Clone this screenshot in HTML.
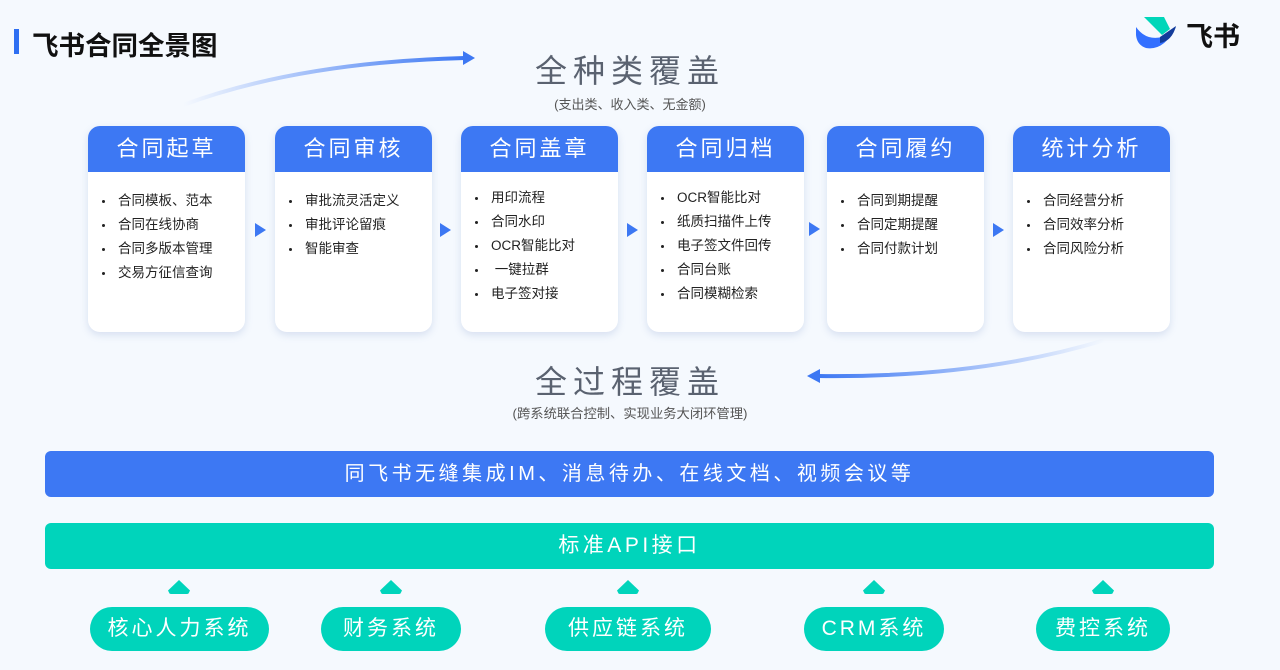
<!DOCTYPE html>
<html><head><meta charset="utf-8"><style>
*{margin:0;padding:0;box-sizing:border-box}
body{width:1280px;height:670px;background:#f5f9fe;position:relative;overflow:hidden;font-family:"Liberation Sans","Noto Sans CJK SC",sans-serif}
.a{position:absolute}
.card{position:absolute;top:126px;height:206px;background:#fff;border-radius:12px;box-shadow:0 3px 8px rgba(80,110,180,.18);overflow:hidden}
.card .h{height:46px;background:#3d78f3;color:#fff;font-size:22px;text-align:center;line-height:46px;letter-spacing:3px}
.card ul{list-style:none;padding:15px 0 0 12px}
.card li{font-size:13.5px;color:#222;height:24px;line-height:24px;padding-left:18px;position:relative}
.card li:before{content:"";position:absolute;left:2px;top:11px;width:3px;height:3px;border-radius:50%;background:#222}
.tri{position:absolute;width:0;height:0;border-top:7px solid transparent;border-bottom:7px solid transparent;border-left:11px solid #3d78f3}
.bar{position:absolute;left:45px;width:1169px;height:46px;border-radius:6px;color:#fff;font-size:20px;text-align:center;line-height:46px;letter-spacing:3.5px}
.pill{position:absolute;top:607px;height:44px;border-radius:22px;background:#00d4bb;color:#fff;font-size:21px;text-align:center;line-height:44px;letter-spacing:3px}
.up{position:absolute;top:580px;width:22px;height:14px;background:#00d4bb;clip-path:polygon(50% 0,100% 75%,92% 100%,8% 100%,0 75%);border-radius:3px}
</style></head><body>
<div class="a" style="left:14px;top:29px;width:5px;height:25px;background:#2e6ff2"></div>
<div class="a" style="left:32px;top:24px;font-size:26.5px;font-weight:bold;color:#111">飞书合同全景图</div>
<svg class="a" style="left:1134px;top:15px" width="48" height="36" viewBox="0 0 48 36"><path d="M10 2 L30 2 L36 14 L28 20 Z" fill="#00d6b9"/><path d="M2 12 Q12 26 28 22 L42 12 Q30 36 12 33 Q3 30 2 20 Z" fill="#3370ff"/><path d="M26 22 L42 11 Q38 26 26 28 Z" fill="#133c9a"/></svg>
<div class="a" style="left:1186px;top:15px;font-size:27px;font-weight:bold;color:#111">飞书</div>
<svg class="a" style="left:0;top:0" width="1280" height="400">
<defs><linearGradient id="g1" x1="0" x2="1"><stop offset="0" stop-color="#3d78f3" stop-opacity="0"/><stop offset="1" stop-color="#3d78f3"/></linearGradient>
<linearGradient id="g2" x1="1" x2="0"><stop offset="0" stop-color="#3d78f3" stop-opacity="0"/><stop offset="1" stop-color="#3d78f3"/></linearGradient></defs>
<path d="M183 105 Q300 62 465 58" stroke="url(#g1)" stroke-width="4" fill="none"/>
<path d="M463 51 L475 58 L463 65 Z" fill="#3d78f3"/>
<path d="M1105 340 Q980 378 818 376" stroke="url(#g2)" stroke-width="4" fill="none"/>
<path d="M820 369 L807 376 L820 383 Z" fill="#3d78f3"/>
</svg>
<div class="a" style="left:530px;top:46px;width:200px;text-align:center;font-size:32px;color:#5a6270;letter-spacing:6px">全种类覆盖</div>
<div class="a" style="left:480px;top:94px;width:300px;text-align:center;font-size:13px;color:#555">(支出类、收入类、无金额)</div>
<div class="a" style="left:530px;top:357px;width:200px;text-align:center;font-size:32px;color:#5a6270;letter-spacing:6px">全过程覆盖</div>
<div class="a" style="left:430px;top:403px;width:400px;text-align:center;font-size:13.3px;color:#555">(跨系统联合控制、实现业务大闭环管理)</div>

<div class="card" style="left:88px;width:157px"><div class="h">合同起草</div><ul style="padding-top:17px"><li>合同模板、范本</li><li>合同在线协商</li><li>合同多版本管理</li><li>交易方征信查询</li></ul></div>
<div class="card" style="left:275px;width:157px"><div class="h">合同审核</div><ul style="padding-top:17px"><li>审批流灵活定义</li><li>审批评论留痕</li><li>智能审查</li></ul></div>
<div class="card" style="left:461px;width:157px"><div class="h">合同盖章</div><ul style="padding-top:14px"><li>用印流程</li><li>合同水印</li><li>OCR智能比对</li><li>&nbsp;一键拉群</li><li>电子签对接</li></ul></div>
<div class="card" style="left:647px;width:157px"><div class="h">合同归档</div><ul style="padding-top:14px"><li>OCR智能比对</li><li>纸质扫描件上传</li><li>电子签文件回传</li><li>合同台账</li><li>合同模糊检索</li></ul></div>
<div class="card" style="left:827px;width:157px"><div class="h">合同履约</div><ul style="padding-top:17px"><li>合同到期提醒</li><li>合同定期提醒</li><li>合同付款计划</li></ul></div>
<div class="card" style="left:1013px;width:157px"><div class="h">统计分析</div><ul style="padding-top:17px"><li>合同经营分析</li><li>合同效率分析</li><li>合同风险分析</li></ul></div>
<div class="tri" style="left:255px;top:223px"></div>
<div class="tri" style="left:440px;top:223px"></div>
<div class="tri" style="left:627px;top:223px"></div>
<div class="tri" style="left:809px;top:222px"></div>
<div class="tri" style="left:993px;top:223px"></div>

<div class="bar" style="top:451px;background:#3d78f3">同飞书无缝集成IM、消息待办、在线文档、视频会议等</div>
<div class="bar" style="top:523px;background:#00d4bb;font-size:21px">标准API接口</div>
<div class="up" style="left:168px"></div><div class="up" style="left:380px"></div><div class="up" style="left:617px"></div><div class="up" style="left:863px"></div><div class="up" style="left:1092px"></div>
<div class="pill" style="left:90px;width:179px">核心人力系统</div>
<div class="pill" style="left:321px;width:140px">财务系统</div>
<div class="pill" style="left:545px;width:166px">供应链系统</div>
<div class="pill" style="left:804px;width:140px">CRM系统</div>
<div class="pill" style="left:1036px;width:134px">费控系统</div>
</body></html>
